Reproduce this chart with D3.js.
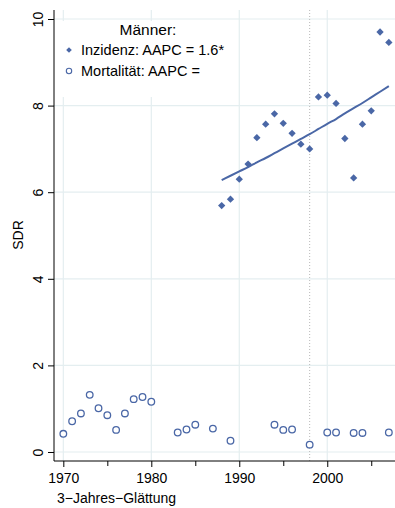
<!DOCTYPE html>
<html>
<head>
<meta charset="utf-8">
<script src="https://cdn.jsdelivr.net/npm/d3@7"></script>
<style>
  body { margin: 0; background: #fff; }
  text { font-family: "Liberation Sans", Arial, sans-serif; fill: #000; }
</style>
</head>
<body>
<div id="drawingfield"></div>
<script>
// data
var years = d3.range(1970, 2008);
var incYears = d3.range(1988, 2008);
var incidence = [5.69, 5.84, 6.30, 6.65, 7.26, 7.57, 7.81, 7.59, 7.36, 7.11,
                 7.00, 8.20, 8.24, 8.05, 7.24, 6.33, 7.57, 7.88, 9.70, 9.46];
var incFit = [6.28, 6.38, 6.48, 6.58, 6.69, 6.79, 6.90, 7.01, 7.12, 7.23,
              7.34, 7.46, 7.58, 7.69, 7.82, 7.94, 8.06, 8.19, 8.32, 8.45];
var mortality = [0.42, 0.71, 0.89, 1.32, 1.01, 0.85, 0.51, 0.89, 1.22, 1.27,
                 1.16, null, null, 0.45, 0.52, 0.63, null, 0.54, null, 0.26,
                 null, null, null, null, 0.63, 0.51, 0.52, null, 0.17, null,
                 0.45, 0.45, null, 0.44, 0.44, null, null, 0.45];
var xMajor = [1970, 1980, 1990, 2000];
var xMinor = [1975, 1985, 1995, 2005];
var yTicks = [0, 2, 4, 6, 8, 10];
var breakYear = 1998;
var legendTitle = "Männer:";
var legendLabels = ["Inzidenz: AAPC = 1.6*", "Mortalität: AAPC ="];

var width = 395;
var height = 508;
var blue = "#4a67a6";
var grid = "#e4eef0";

var svg = d3.select("#drawingfield")
    .append("svg")
    .attr("width", width)
    .attr("height", height);

// scales
var x = d3.scaleLinear().domain([1968.94, 2007.7]).range([54, 395]);
var y = d3.scaleLinear().domain([-0.208, 10.208]).range([461, 10]);

// grid lines
svg.append("g").selectAll("line.hg")
    .data(yTicks)
    .enter().append("line")
    .attr("x1", 54).attr("x2", 395)
    .attr("y1", function(d){ return y(d); })
    .attr("y2", function(d){ return y(d); })
    .attr("stroke", grid).attr("stroke-width", 1.2);

svg.append("g").selectAll("line.vg")
    .data(xMajor)
    .enter().append("line")
    .attr("x1", function(d){ return x(d); })
    .attr("x2", function(d){ return x(d); })
    .attr("y1", 10).attr("y2", 461)
    .attr("stroke", grid).attr("stroke-width", 1.2);

// dotted reference line
svg.append("line")
    .attr("x1", x(breakYear)).attr("x2", x(breakYear))
    .attr("y1", 10).attr("y2", 461)
    .attr("stroke", "#b8b8b8").attr("stroke-width", 1)
    .attr("stroke-dasharray", "1,2");

// legend box covers the grid
svg.append("rect")
    .attr("x", 55).attr("y", 21)
    .attr("width", 183).attr("height", 76)
    .attr("fill", "#fff");

// axes
var yAxis = d3.axisLeft(y).tickValues(yTicks).tickSize(6).tickFormat(d3.format("d"));
var gy = svg.append("g").attr("transform", "translate(54,0)").call(yAxis);
gy.select(".domain").attr("d", "M0," + y.range()[1] + "V" + y.range()[0]).attr("stroke", "#000");
gy.selectAll("text")
    .attr("x", null).attr("dy", null)
    .attr("text-anchor", "middle")
    .attr("transform", "translate(-11.5,0) rotate(-90)")
    .style("font-size", "14px");

var xAxis = d3.axisBottom(x).tickValues(xMajor).tickSize(6).tickFormat(d3.format("d"));
var gx = svg.append("g").attr("transform", "translate(0,461)").call(xAxis);
gx.select(".domain").attr("d", "M54,0H395").attr("stroke", "#000");
gx.selectAll("text")
    .attr("dy", null)
    .attr("y", 21.5)
    .style("font-size", "14px");

svg.append("g").attr("transform", "translate(0,461)")
    .call(d3.axisBottom(x).tickValues(xMinor).tickSize(5).tickFormat(""))
    .select(".domain").remove();

svg.selectAll(".tick line").attr("stroke", "#000");
svg.selectAll(".domain").attr("fill", "none");

// axis titles
svg.append("text")
    .attr("transform", "translate(22.5,235) rotate(-90)")
    .attr("text-anchor", "middle")
    .style("font-size", "14px")
    .text("SDR");

svg.append("text")
    .attr("x", 57).attr("y", 502.5)
    .style("font-size", "14px")
    .text("3\u2212Jahres\u2212Glättung");

// fitted curve
var line = d3.line()
    .x(function(d, i){ return x(incYears[i]); })
    .y(function(d){ return y(d); })
    .curve(d3.curveMonotoneX);

svg.append("path")
    .datum(incFit)
    .attr("d", line)
    .attr("fill", "none")
    .attr("stroke", blue)
    .attr("stroke-width", 2);

// incidence diamonds
var diamond = d3.symbol().type(d3.symbolDiamond2).size(34);
svg.append("g").selectAll("path")
    .data(incidence)
    .enter().append("path")
    .attr("d", diamond)
    .attr("transform", function(d, i){ return "translate(" + x(incYears[i]) + "," + y(d) + ")"; })
    .attr("fill", blue);

// mortality circles
svg.append("g").selectAll("circle")
    .data(years.map(function(yr, i){ return {year: yr, v: mortality[i]}; })
        .filter(function(d){ return d.v !== null; }))
    .enter().append("circle")
    .attr("cx", function(d){ return x(d.year); })
    .attr("cy", function(d){ return y(d.v); })
    .attr("r", 3.3)
    .attr("fill", "#fff")
    .attr("stroke", blue)
    .attr("stroke-width", 1.3);

// legend
svg.append("text")
    .attr("x", 148).attr("y", 35)
    .attr("text-anchor", "middle")
    .style("font-size", "15.5px")
    .text(legendTitle);

svg.append("path")
    .attr("d", d3.symbol().type(d3.symbolDiamond2).size(20))
    .attr("transform", "translate(69,50)")
    .attr("fill", blue);
svg.append("circle")
    .attr("cx", 69).attr("cy", 71).attr("r", 2.7)
    .attr("fill", "#fff").attr("stroke", blue).attr("stroke-width", 1.1);

svg.selectAll("text.leg")
    .data(legendLabels)
    .enter().append("text")
    .attr("class", "leg")
    .attr("x", 81)
    .attr("y", function(d, i){ return 55 + i * 21; })
    .style("font-size", "14.5px")
    .text(function(d){ return d; });
</script>
</body>
</html>
